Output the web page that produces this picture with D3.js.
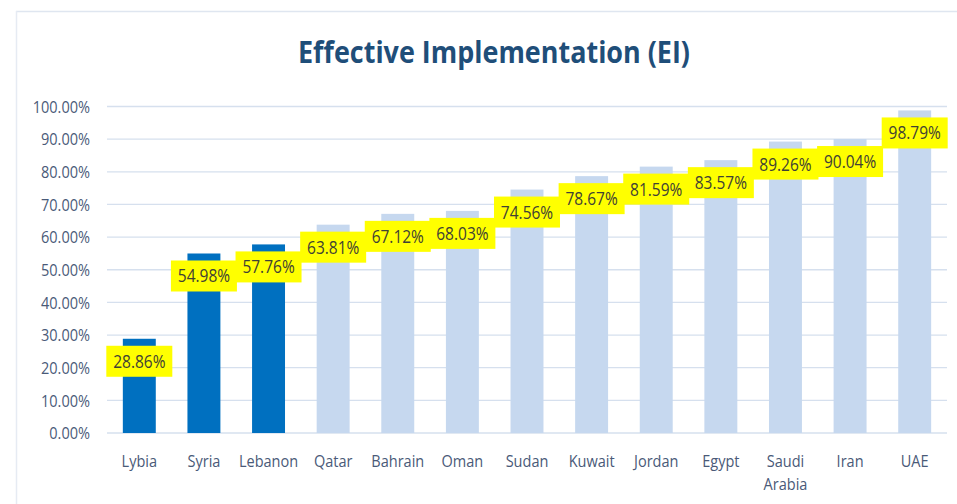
<!DOCTYPE html>
<html>
<head>
<meta charset="utf-8">
<script src="https://cdn.jsdelivr.net/npm/d3@7"></script>
<style>
  html, body { margin: 0; padding: 0; background: #ffffff; }
  svg { display: block; }
</style>
</head>
<body>
<svg id="chart" width="957" height="504"></svg>
<script>
const categories = ["Lybia", "Syria", "Lebanon", "Qatar", "Bahrain", "Oman", "Sudan", "Kuwait", "Jordan", "Egypt", "Saudi Arabia", "Iran", "UAE"];
const values = [28.86, 54.98, 57.76, 63.81, 67.12, 68.03, 74.56, 78.67, 81.59, 83.57, 89.26, 90.04, 98.79];
const highlighted = ["Lybia", "Syria", "Lebanon"];
const yTicks = [0, 10, 20, 30, 40, 50, 60, 70, 80, 90, 100];
const title = "Effective Implementation (EI)";

const svg = d3.select("#chart");
const W = 957, H = 504;
const margin = { left: 107, right: 10, top: 106.5, bottom: 71 };
const plotRight = 947;
const FONT = "'Open Sans', sans-serif";

function condense(sel, f) {
  sel.each(function() {
    const len = this.getComputedTextLength();
    d3.select(this).attr("textLength", len * f).attr("lengthAdjust", "spacingAndGlyphs");
  });
}

// outer frame lines (top & left)
svg.append("line").attr("x1", 16).attr("x2", W).attr("y1", 11.5).attr("y2", 11.5)
  .attr("stroke", "#dfe6f0").attr("stroke-width", 1.5);
svg.append("line").attr("x1", 16.5).attr("x2", 16.5).attr("y1", 11).attr("y2", H)
  .attr("stroke", "#e6ebf3").attr("stroke-width", 1.5);

const x = d3.scaleBand().domain(categories).range([margin.left, plotRight]).paddingInner(0.49).paddingOuter(0.245);
const y = d3.scaleLinear().domain([0, 100]).range([433, 106.5]);

// gridlines
svg.append("g").selectAll("line").data(yTicks).join("line")
  .attr("x1", margin.left).attr("x2", plotRight)
  .attr("y1", d => y(d)).attr("y2", d => y(d))
  .attr("stroke", "#d6e0ee").attr("stroke-width", 1.3);

// y axis labels
const yAxis = d3.axisLeft(y).tickValues(yTicks).tickSize(0).tickPadding(0)
  .tickFormat(d => d3.format(".2f")(d) + "%");
const gy = svg.append("g").attr("transform", "translate(90,0)").call(yAxis);
gy.select(".domain").remove();
gy.selectAll("text").attr("font-family", FONT).attr("font-size", 16.5)
  .attr("fill", "#4a5a78").attr("dy", "0.35em");
condense(gy.selectAll("text"), 0.88);

// bars
const data = categories.map((c, i) => ({ c, v: values[i] }));
svg.append("g").selectAll("rect").data(data).join("rect")
  .attr("x", d => x(d.c)).attr("width", x.bandwidth())
  .attr("y", d => y(d.v)).attr("height", d => y(0) - y(d.v))
  .attr("fill", d => highlighted.includes(d.c) ? "#0070c0" : "#c6d8ef");

// value labels with yellow boxes
const lg = svg.append("g").selectAll("g").data(data).join("g")
  .attr("transform", d => `translate(${x(d.c) + x.bandwidth() / 2},${y(d.v) + 22.5})`);
lg.append("rect").attr("x", -33).attr("y", -15.5).attr("width", 66).attr("height", 31).attr("fill", "#ffff00");
const lt = lg.append("text").attr("text-anchor", "middle").attr("dy", "0.36em")
  .attr("font-family", FONT).attr("font-size", 18).attr("fill", "#3f4235")
  .text(d => d3.format(".2f")(d.v) + "%");
condense(lt, 0.86);

// x axis labels
const xAxis = d3.axisBottom(x).tickSize(0).tickPadding(0);
const gx = svg.append("g").attr("transform", "translate(0,433)").call(xAxis);
gx.select(".domain").remove();
gx.selectAll("text").remove();
gx.selectAll(".tick").each(function(d) {
  const words = d.split(" ");
  const t = d3.select(this);
  words.forEach((w, i) => {
    t.append("text").attr("text-anchor", "middle").attr("x", 0).attr("y", 33.5 + i * 23.5)
      .attr("font-family", FONT).attr("font-size", 16.5).attr("fill", "#4a5a78")
      .text(w);
  });
});
condense(gx.selectAll("text"), 0.88);

// title
svg.append("text").attr("x", 494).attr("y", 63).attr("text-anchor", "middle")
  .attr("font-family", FONT).attr("font-weight", "bold").attr("font-size", 30)
  .attr("fill", "#1f4e79").attr("textLength", 392).attr("lengthAdjust", "spacingAndGlyphs")
  .text(title);
</script>
</body>
</html>
